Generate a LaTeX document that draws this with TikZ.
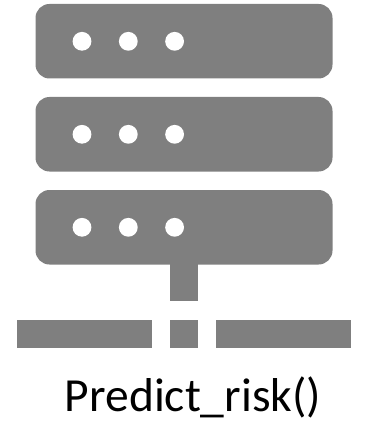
\documentclass[tikz,border=0pt]{standalone}
\usepackage{fontspec}
\setmainfont{Carlito}
\definecolor{srv}{RGB}{127,127,127}
\tikzset{
  x=1pt,y=-1pt,
  rack/.style={fill=srv,draw=none,rounded corners=14pt},
  bar/.style={fill=srv,draw=none},
  led/.style={fill=white,draw=none},
  caption/.style={inner sep=0pt,anchor=base,font=\fontsize{47.5}{50}\selectfont}
}
\begin{document}
\begin{tikzpicture}
\useasboundingbox (0,0) rectangle (365,422);
\foreach \t in {4,97,190}{
  \fill[rack] (35.5,\t) rectangle (332.5,\t+74.5);
  \foreach \c in {82,128.3,174.6}
    \fill[led] (\c,\t+37.3) circle[radius=9.4];
}
\fill[bar] (170,264) rectangle (198,301);
\fill[bar] (17,320) rectangle (152,348);
\fill[bar] (170,320) rectangle (198,348);
\fill[bar] (216,320) rectangle (351,348);
\node[caption] (cap) at (193,411) {Predict\char"5F risk()};
\end{tikzpicture}
\end{document}
